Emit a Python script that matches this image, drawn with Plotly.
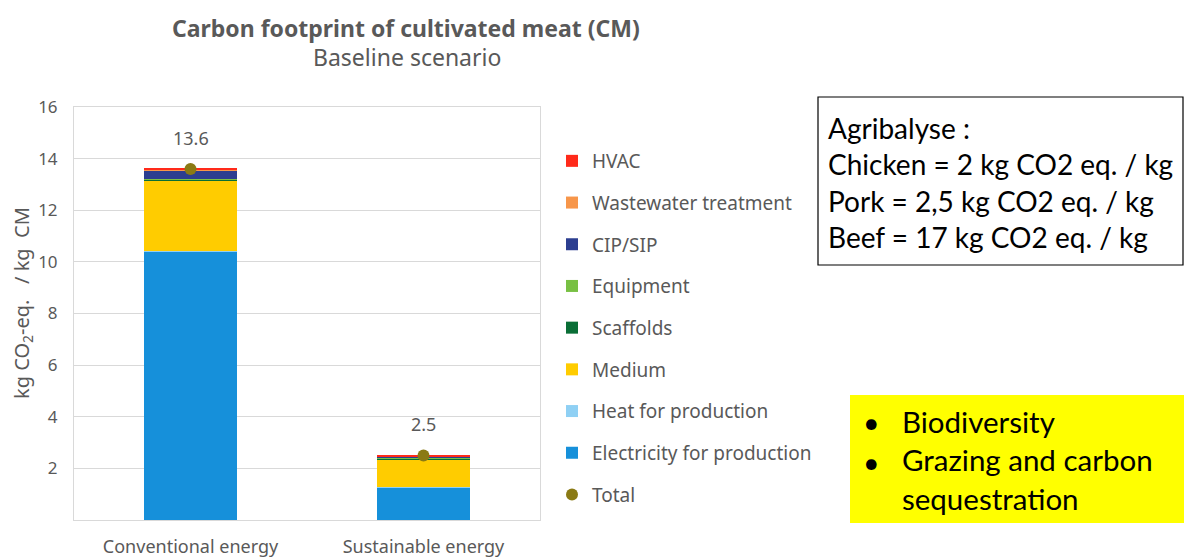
import plotly.graph_objects as go

categories = ["Conventional energy", "Sustainable energy"]
series_names = ["Electricity for production", "Heat for production", "Medium", "Scaffolds",
                "Equipment", "CIP/SIP", "Wastewater treatment", "HVAC"]
electricity = [10.4, 1.25]
heat = [0.02, 0.01]
medium = [2.75, 1.10]
scaffolds = [0.01, 0.03]
equipment = [0.02, 0.02]
cip_sip = [0.33, 0.04]
wastewater = [0.05, 0.02]
hvac = [0.04, 0.03]
totals = [13.6, 2.5]
total_labels = ["13.6", "2.5"]
y_ticks = [2, 4, 6, 8, 10, 12, 14, 16]

series_values = [electricity, heat, medium, scaffolds, equipment, cip_sip, wastewater, hvac]
colors = ["#1690da", "#8fd0f4", "#ffcc00", "#0a6e36", "#78c043", "#2c3e90", "#f7964a", "#ff2a1a"]

grey = "#595959"
font_chart = "Noto Sans"

OFF = 8  # page body margin
W, H = 1192 - OFF, 560 - OFF
L, R, T, B = 74 - OFF, 540 - OFF, 107 - OFF, 520 - OFF
PW, PH = R - L, B - T


def px(x):
    return (x - OFF - L) / PW


def py(y):
    return (B - (y - OFF)) / PH


fig = go.Figure()
n = len(series_names)
for i, (name, vals, col) in enumerate(zip(series_names, series_values, colors)):
    fig.add_trace(go.Bar(
        x=categories, y=vals, name=name, marker=dict(color=col, line=dict(width=0)),
        legendrank=n - i, legendgroup=name,
    ))

fig.add_trace(go.Scatter(
    x=categories, y=totals, name="Total", mode="markers",
    marker=dict(color="#8a7a14", size=12), legendrank=n + 1, legendgroup="Total",
))

for c, t, lab in zip(categories, totals, total_labels):
    fig.add_annotation(x=c, y=t, text=lab, showarrow=False, yshift=31,
                       font=dict(size=18, color=grey, family=font_chart))

fig.update_layout(
    width=W, height=H,
    margin=dict(l=L, r=W - R, t=T, b=H - B, autoexpand=False),
    paper_bgcolor="white", plot_bgcolor="white",
    barmode="stack", bargap=0.6,
    showlegend=True,
    legend=dict(x=px(552), y=py(142), xanchor="left", yanchor="top",
                traceorder="grouped", tracegroupgap=14,
                font=dict(size=19, color=grey, family=font_chart),
                itemwidth=30),
    font=dict(family=font_chart, color=grey),
)

fig.update_xaxes(showgrid=False, showline=True, linecolor="#d9d9d9", mirror=True, automargin=False,
                 tickfont=dict(size=18, color=grey), ticks="", ticklabelstandoff=10)
fig.update_yaxes(range=[0, 16], tickvals=y_ticks, showgrid=True, gridcolor="#d9d9d9",
                 showline=True, linecolor="#d9d9d9", mirror=True, zeroline=False, automargin=False,
                 tickfont=dict(size=17, color=grey), ticks="", ticklabelstandoff=12,
                 title=dict(text="&nbsp;&nbsp;&nbsp;&nbsp;kg CO<sub>2</sub>-eq.&nbsp;&nbsp; / kg&nbsp; CM",
                            font=dict(size=20, color=grey), standoff=6))

# Titles
fig.add_annotation(xref="paper", yref="paper", x=px(406), y=py(28), text="<b>Carbon footprint of cultivated meat (CM)</b>",
                   showarrow=False, font=dict(size=23, color=grey, family=font_chart), xanchor="center", yanchor="middle")
fig.add_annotation(xref="paper", yref="paper", x=px(407), y=py(57), text="Baseline scenario",
                   showarrow=False, font=dict(size=23, color=grey, family=font_chart), xanchor="center", yanchor="middle")

# Agribalyse box
fig.add_shape(type="rect", xref="paper", yref="paper",
              x0=px(818), x1=px(1183), y0=py(265), y1=py(97),
              line=dict(color="black", width=1.2), fillcolor="white")
fig.add_annotation(xref="paper", yref="paper", x=px(826), y=py(182),
                   text="Agribalyse :<br>Chicken = 2 kg CO2 eq. / kg<br>Pork = 2,5 kg CO2 eq. / kg<br>Beef = 17 kg CO2 eq. / kg",
                   showarrow=False, align="left", xanchor="left", yanchor="middle",
                   font=dict(size=28, color="black", family="Lato"))

# Yellow box
fig.add_shape(type="rect", xref="paper", yref="paper",
              x0=px(850), x1=px(1192), y0=py(523), y1=py(395),
              line=dict(width=0), fillcolor="#ffff00")
for yy in (422, 462):
    fig.add_annotation(xref="paper", yref="paper", x=px(861), y=py(yy),
                       text="•", showarrow=False, xanchor="left", yanchor="middle",
                       font=dict(size=28.5, color="black", family="Lato"))
fig.add_annotation(xref="paper", yref="paper", x=px(900), y=py(460),
                   text="Biodiversity<br>Grazing and carbon<br>sequestration",
                   showarrow=False, align="left", xanchor="left", yanchor="middle",
                   font=dict(size=29.5, color="black", family="Lato"))

fig.write_html("out.html")
